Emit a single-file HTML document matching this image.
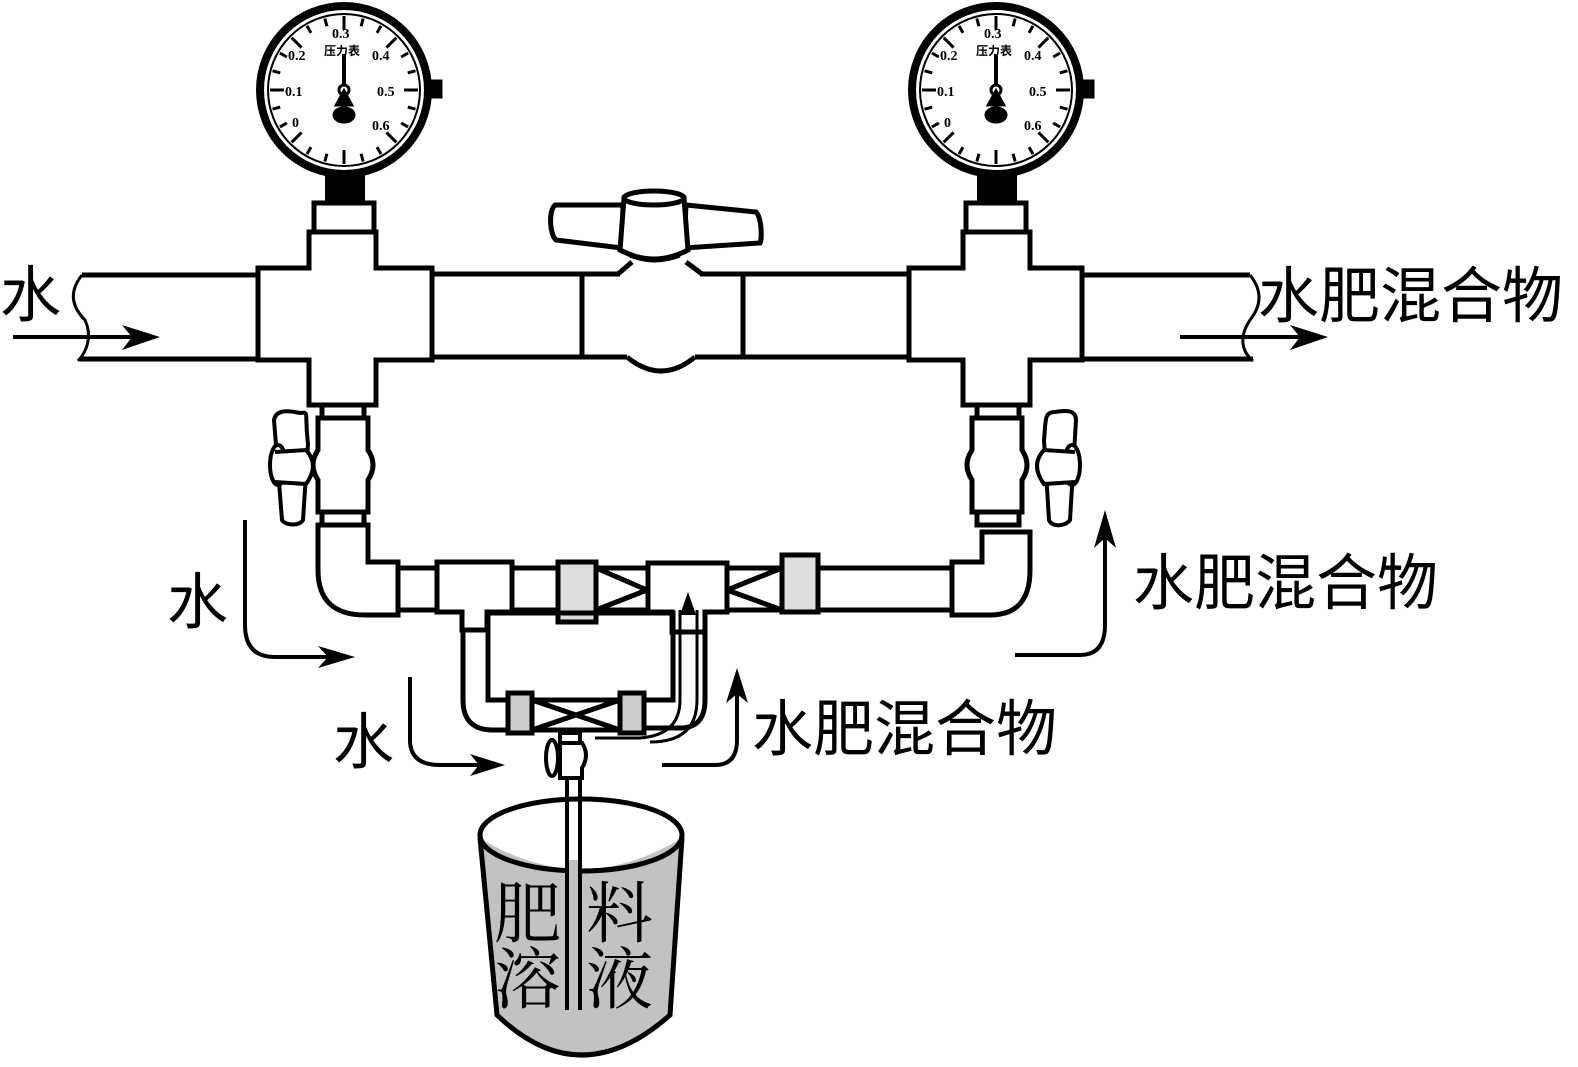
<!DOCTYPE html>
<html><head><meta charset="utf-8"><style>
html,body{margin:0;padding:0;background:#fff;}
svg{display:block;}
text{fill:#000;}
</style></head><body>
<svg width="1578" height="1067" viewBox="0 0 1578 1067" xmlns="http://www.w3.org/2000/svg">
<defs>
<g id="gauge">
  <circle cx="0" cy="0" r="84" fill="#fff" stroke="#000" stroke-width="8"/>
  <circle cx="0" cy="0" r="76" fill="none" stroke="#000" stroke-width="2"/>
  <g stroke="#000" stroke-width="3">
    <line x1="0" y1="-74" x2="0" y2="-60" transform="rotate(0)"/>
    <line x1="0" y1="-74" x2="0" y2="-60" transform="rotate(45)"/>
    <line x1="0" y1="-74" x2="0" y2="-60" transform="rotate(90)"/>
    <line x1="0" y1="-74" x2="0" y2="-60" transform="rotate(135)"/>
    <line x1="0" y1="-74" x2="0" y2="-60" transform="rotate(180)"/>
    <line x1="0" y1="-74" x2="0" y2="-60" transform="rotate(225)"/>
    <line x1="0" y1="-74" x2="0" y2="-60" transform="rotate(270)"/>
    <line x1="0" y1="-74" x2="0" y2="-60" transform="rotate(315)"/>
    <line x1="0" y1="-74" x2="0" y2="-66" transform="rotate(15)"/>
    <line x1="0" y1="-74" x2="0" y2="-66" transform="rotate(30)"/>
    <line x1="0" y1="-74" x2="0" y2="-66" transform="rotate(60)"/>
    <line x1="0" y1="-74" x2="0" y2="-66" transform="rotate(75)"/>
    <line x1="0" y1="-74" x2="0" y2="-66" transform="rotate(105)"/>
    <line x1="0" y1="-74" x2="0" y2="-66" transform="rotate(120)"/>
    <line x1="0" y1="-74" x2="0" y2="-66" transform="rotate(150)"/>
    <line x1="0" y1="-74" x2="0" y2="-66" transform="rotate(165)"/>
    <line x1="0" y1="-74" x2="0" y2="-66" transform="rotate(195)"/>
    <line x1="0" y1="-74" x2="0" y2="-66" transform="rotate(210)"/>
    <line x1="0" y1="-74" x2="0" y2="-66" transform="rotate(240)"/>
    <line x1="0" y1="-74" x2="0" y2="-66" transform="rotate(255)"/>
    <line x1="0" y1="-74" x2="0" y2="-66" transform="rotate(285)"/>
    <line x1="0" y1="-74" x2="0" y2="-66" transform="rotate(300)"/>
    <line x1="0" y1="-74" x2="0" y2="-66" transform="rotate(330)"/>
    <line x1="0" y1="-74" x2="0" y2="-66" transform="rotate(345)"/>
  </g>
  <line x1="0" y1="-36" x2="0" y2="-5" stroke="#000" stroke-width="4"/>
  <circle cx="0" cy="0" r="5" fill="#fff" stroke="#000" stroke-width="3"/>
  <polygon points="-6,14 0,3 6,14" fill="#000"/>
  <ellipse cx="0" cy="25" rx="9" ry="6" fill="#000"/>
  <rect x="86" y="-8" width="10" height="14" fill="#000"/>
</g>
</defs>

<g fill="none" stroke="#000" stroke-width="5" stroke-linejoin="miter">
<use href="#gauge" x="344" y="90"/>
<use href="#gauge" x="996" y="90"/>
<rect x="325" y="174" width="40" height="28" fill="#000" stroke="none"/>
<rect x="977" y="174" width="40" height="28" fill="#000" stroke="none"/>
<rect x="314" y="203" width="60" height="29" fill="#fff"/>
<rect x="966" y="203" width="60" height="29" fill="#fff"/>

<path d="M82,275 H258 M80,359 H258"/>
<path d="M82,275 C70,290 70,305 85,320 C92,335 88,350 78,361" stroke-width="3"/>
<path d="M1082,275 H1250 M1082,359 H1253"/>
<path d="M1250,275 C1262,290 1262,305 1250,320 C1240,335 1240,350 1253,361" stroke-width="3"/>

<path d="M309,232 H376 V268 H432 V360 H376 V405 H309 V360 H258 V268 H309 Z" fill="#fff"/>
<path d="M963,232 H1030 V268 H1082 V360 H1030 V405 H963 V360 H909 V268 H963 Z" fill="#fff"/>

<path d="M432,274 H620 M700,274 H909 M432,357 H627 M695,357 H909"/>
<line x1="582" y1="274" x2="582" y2="357"/>
<line x1="743" y1="274" x2="743" y2="357"/>
<path d="M627,357 Q661,385 695,357" />
<path d="M618,274 L632,262 M702,274 L686,262"/>
<path d="M623,205 L555,205 C548,212 550,235 556,240 L622,248 Z" fill="#fff"/>
<path d="M686,205 L756,212 C762,218 762,240 760,243 L684,248 Z" fill="#fff"/>
<path d="M624,198 L620,250 Q654,268 688,250 L684,198 Z" fill="#fff"/>
<ellipse cx="654" cy="198" rx="30" ry="7" fill="#fff"/>
<path d="M630,256 Q654,266 680,256" stroke-width="3"/>

<rect x="322" y="405" width="42" height="13" fill="#fff"/>
<path d="M318,418 H368 V450 Q378,465 368,480 V512 H318 V480 Q308,465 318,450 Z" fill="#fff"/>
<rect x="322" y="512" width="42" height="13" fill="#fff"/>
<path d="M300,413 C310,412 304,412 308,444 L303,520 C300,526 286,526 282,520 L274,420 C276,410 286,410 300,413 Z" fill="#fff" stroke-width="4"/>
<ellipse cx="278" cy="465" rx="8" ry="20" fill="#fff" stroke-width="4"/>
<path d="M275,452 L306,450 Q320,465 306,484 L275,482" fill="#fff" stroke-width="4"/>

<rect x="977" y="405" width="42" height="13" fill="#fff"/>
<path d="M972,418 H1022 V450 Q1032,465 1022,480 V512 H972 V480 Q962,465 972,450 Z" fill="#fff"/>
<rect x="977" y="512" width="42" height="13" fill="#fff"/>
<path d="M1055,412 C1044,412 1046,420 1044,440 L1049,520 C1052,528 1066,526 1070,520 L1076,420 C1076,410 1066,410 1055,412 Z" fill="#fff" stroke-width="4"/>
<ellipse cx="1072" cy="465" rx="8" ry="20" fill="#fff" stroke-width="4"/>
<path d="M1075,452 L1044,450 Q1030,465 1044,484 L1075,482" fill="#fff" stroke-width="4"/>

<path d="M318,525 V570 Q318,615 365,615 H398 V562 H368 V525 Z" fill="#fff"/>
<rect x="398" y="568" width="39" height="42" fill="#fff"/>
<path d="M437,562 H512 V612 H487 V630 H462 V612 H437 Z" fill="#fff"/>
<rect x="512" y="568" width="46" height="42" fill="#fff"/>
<rect x="558" y="562" width="38" height="60" fill="#ddd"/>
<path d="M596,568 H647 M596,610 H647 M596,568 L647,590 M596,610 L647,590"/>
<path d="M648,563 H727 V612 H705 V632 H672 V612 H648 Z" fill="#fff"/>
<path d="M727,568 H782 M727,610 H782 M727,590 L782,568 M727,590 L782,610"/>
<rect x="782" y="555" width="36" height="57" fill="#ddd"/>
<rect x="818" y="568" width="134" height="42" fill="#fff"/>
<path d="M952,562 H982 V532 H1030 V570 Q1030,615 990,615 H952 Z" fill="#fff"/>

<rect x="488" y="613" width="185" height="87"/>
<path d="M463,630 V700 Q463,730 493,730 H510"/>
<path d="M705,632 V700 Q705,728 680,728 H643"/>
<rect x="508" y="693" width="24" height="40" fill="#ccc"/>
<rect x="620" y="693" width="24" height="40" fill="#ccc"/>
<path d="M532,700 H620 M532,730 H620 M532,700 L620,730 M532,730 L620,700"/>
<path d="M680,610 V700 Q680,735 640,738 H595" stroke-width="3"/>
<path d="M697,610 V700 Q697,742 650,742" stroke-width="3"/>
<polygon points="688,592 680,615 696,615" fill="#000" stroke="none"/>

<rect x="560" y="733" width="20" height="10" fill="#fff" stroke-width="4"/>
<path d="M560,743 H582 Q590,755 582,768 V778 H560 Z" fill="#fff" stroke-width="4"/>
<ellipse cx="552" cy="758" rx="6" ry="18" fill="#fff" stroke-width="4"/>
<line x1="567" y1="778" x2="567" y2="1010" stroke-width="4"/>
<line x1="580" y1="778" x2="580" y2="1010" stroke-width="4"/>

<path d="M480,838 L497,1015 Q580,1095 670,1015 L682,838 Q580,900 480,838 Z" fill="#c2c2c2" stroke="none"/>
<path d="M480,838 L497,1015 Q580,1095 670,1015 L682,838" />
<ellipse cx="581" cy="835" rx="101" ry="36" fill="none"/>
<rect x="569" y="860" width="9" height="150" fill="#c2c2c2" stroke="none"/>
<line x1="567" y1="800" x2="567" y2="1010" stroke-width="4"/>
<line x1="580" y1="800" x2="580" y2="1010" stroke-width="4"/>

<path d="M13,337 H150" stroke-width="4"/>
<polygon points="160,337 122,325 132,337 122,350" fill="#000" stroke="none"/>
<path d="M1180,337 H1318" stroke-width="4"/>
<polygon points="1328,337 1290,325 1300,337 1290,350" fill="#000" stroke="none"/>

<path d="M245,520 V625 Q245,657 275,657 H345" stroke-width="4"/>
<polygon points="355,657 318,646 328,657 318,668" fill="#000" stroke="none"/>
<path d="M410,677 V740 Q410,765 440,765 H495" stroke-width="4"/>
<polygon points="505,765 470,754 479,765 470,776" fill="#000" stroke="none"/>

<path d="M1015,655 H1080 Q1105,655 1105,625 V525" stroke-width="4"/>
<polygon points="1105,510 1094,548 1105,538 1116,548" fill="#000" stroke="none"/>
<path d="M662,765 H715 Q737,765 737,740 V678" stroke-width="4"/>
<polygon points="737,668 726,703 737,694 748,703" fill="#000" stroke="none"/>
</g>

<g style="font-family:'Liberation Serif',serif;font-size:14px;font-weight:bold">
<text x="332" y="38">0.3</text><text x="288" y="60">0.2</text><text x="372" y="60">0.4</text>
<text x="285" y="96">0.1</text><text x="377" y="96">0.5</text>
<text x="292" y="127">0</text><text x="372" y="130">0.6</text>
<text x="984" y="38">0.3</text><text x="940" y="60">0.2</text><text x="1024" y="60">0.4</text>
<text x="937" y="96">0.1</text><text x="1029" y="96">0.5</text>
<text x="944" y="127">0</text><text x="1024" y="130">0.6</text>
</g>
<g style="font-family:'Liberation Sans','Noto Sans CJK SC',sans-serif;font-size:12px;font-weight:bold">
<text x="324" y="55">压力表</text><text x="976" y="55">压力表</text>
</g>

<g style="font-family:'Liberation Sans','Noto Sans CJK SC',sans-serif;font-size:61px">
<text x="0" y="316">水</text>
<text x="1258" y="317">水肥混合物</text>
<text x="167" y="623">水</text>
<text x="1133" y="604">水肥混合物</text>
<text x="333" y="763">水</text>
<text x="752" y="750">水肥混合物</text>
</g>
<g style="font-family:'Liberation Serif','Noto Serif CJK SC',serif;font-size:67px">
<text x="494" y="937">肥</text>
<text x="494" y="1003">溶</text>
<text x="586" y="937">料</text>
<text x="586" y="1003">液</text>
</g>
</svg>
</body></html>
